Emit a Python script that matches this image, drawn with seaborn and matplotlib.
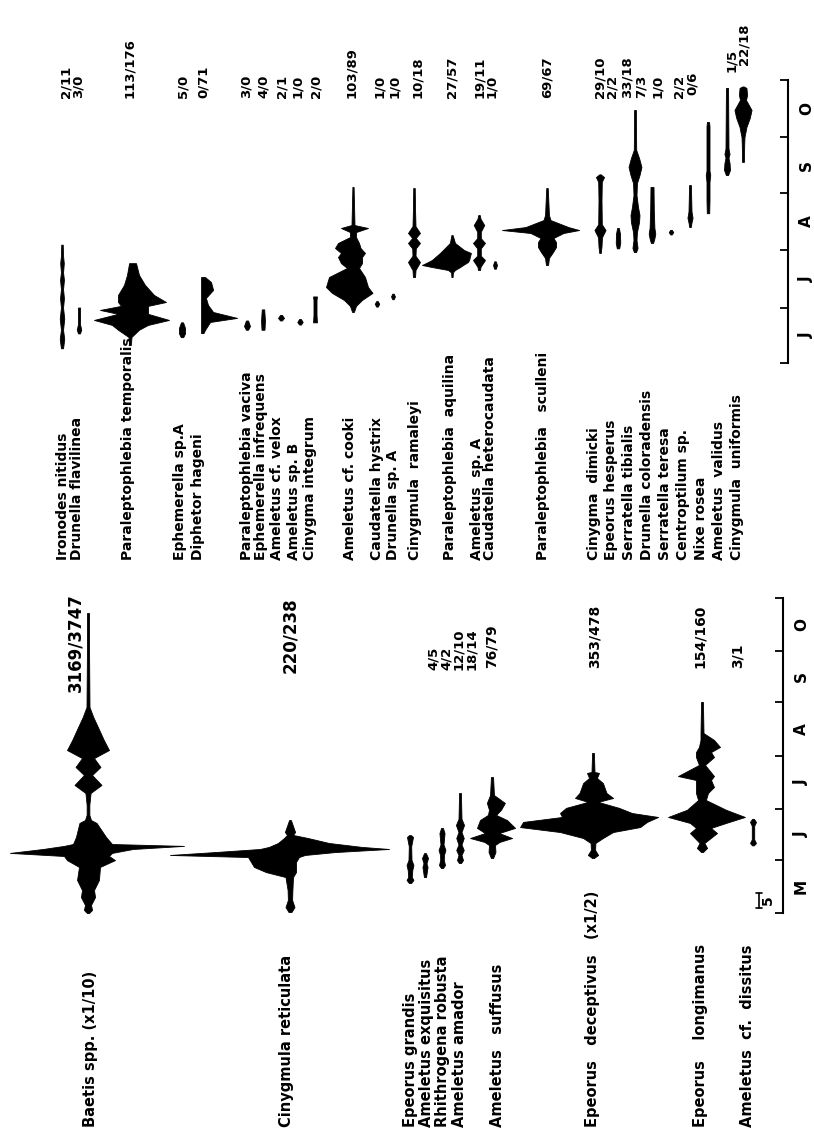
import matplotlib
matplotlib.use("Agg")
import matplotlib.pyplot as plt
import seaborn as sns

sns.set_theme(style="white")
plt.rcParams['font.family'] = ['DejaVu Sans']

PX_PER_IND = 3.0  # kite width: pixels per individual

# month boundaries (day of year) and month names
month_edges = [121, 152, 182, 213, 244, 274, 305]
month_names = ['M', 'J', 'J', 'A', 'S', 'O']

# ---------------- upper block (June - October) ----------------
top_names = ["Ironodes nitidus", "Drunella flavilinea", "Paraleptophlebia temporalis",
             "Ephemerella sp.A", "Diphetor hageni", "Paraleptophlebia vaciva",
             "Ephemerella infrequens", "Ameletus cf. velox", "Ameletus sp. B",
             "Cinygma integrum", "Ameletus cf. cooki", "Caudatella hystrix", "Drunella sp. A",
             "Cinygmula  ramaleyi", "Paraleptophlebia  aquilina", "Ameletus  sp. A",
             "Caudatella heterocaudata", "Paraleptophlebia   sculleni", "Cinygma  dimicki",
             "Epeorus hesperus", "Serratella tibialis", "Drunella coloradensis",
             "Serratella teresa", "Centroptilum sp.", "Nixe rosea", "Ameletus  validus",
             "Cinygmula  uniformis"]
top_counts = ["2/11", "3/0", "113/176", "5/0", "0/71", "3/0", "4/0", "2/1", "1/0", "2/0",
              "103/89", "1/0", "1/0", "10/18", "27/57", "19/11", "1/0", "69/67", "29/10",
              "2/2", "33/18", "7/3", "1/0", "2/2", "0/6", "1/5", "22/18"]

# (day, width) or (day, left, right) in individuals
top_kites = {
    "Ironodes nitidus": [(160, 0.7), (165, 1.5), (170, 0.7), (176, 1.5), (182, 0.7), (187, 1.3),
                         (192, 0.7), (197, 1.3), (201, 0.7), (206, 1.2), (210, 0.7), (216, 0.5)],
    "Drunella flavilinea": [(168, 0.6), (170, 1.5), (173, 0.7), (182, 0.7)],
    "Paraleptophlebia temporalis": [(206, 0.3, 2), (199.6, 1, 3), (194.2, 2, 5), (188.8, 4, 8),
                                    (185, 4, 12), (182.9, 3, 6), (180.7, 10, 6), (178.6, 4, 6),
                                    (175.3, 12, 13), (172.6, 6, 6), (170, 4, 3), (166.1, 0.5, 0.5),
                                    (161.8, 0.3, 0.3)],
    "Ephemerella sp.A": [(166, 0.8), (168, 2), (171, 2), (174, 0.7)],
    "Diphetor hageni": [(198.5, 0.3, 1), (195.8, 0.3, 3), (191.5, 0.3, 3.7), (187.2, 0.3, 1.3),
                        (183.4, 0.3, 2), (179.6, 0.3, 3.7), (176.4, 0.3, 11.7), (174.2, 0.3, 2.7),
                        (169.9, 0.3, 1), (168.2, 0.3, 0.5)],
    "Paraleptophlebia vaciva": [(170, 0.7), (172, 2), (175, 0.7)],
    "Ephemerella infrequens": [(170, 1), (175, 1.3), (181, 0.8)],
    "Ameletus cf. velox": [(175, 0.6), (176.4, 2), (178, 0.6)],
    "Ameletus sp. B": [(172.8, 0.6), (174.2, 1.8), (175.8, 0.6)],
    "Cinygma integrum": [(174, 1.3), (178, 1), (186, 1), (188, 1.3)],
    "Ameletus cf. cooki": [(247.2, 0.2, 0.2), (226.6, 0.5, 0.5), (225, 4, 5), (222.8, 1, 1),
                           (220.1, 1, 1), (216.9, 5, 2), (214.2, 6, 2.5), (211.5, 4, 4),
                           (209.3, 5, 3), (206, 4, 3), (203.4, 2, 2), (198.5, 8, 4), (193.1, 9, 5),
                           (189.9, 7, 6.5), (186.1, 3, 3), (182.9, 1, 1), (179.6, 0.3, 0.3)],
    "Caudatella hystrix": [(182.5, 0.5), (184, 1.5), (185.5, 0.5)],
    "Drunella sp. A": [(186.5, 0.5), (188, 1.3), (189.5, 0.5)],
    "Cinygmula  ramaleyi": [(198.5, 0.7), (202.3, 1), (206.6, 4), (210, 1), (214, 1.2), (216.9, 4),
                            (219.6, 1.2), (222.3, 4), (226, 1), (235, 0.7), (246.6, 0.5)],
    "Paraleptophlebia  aquilina": [(198.5, 0.2, 0.2), (201, 0.3, 0.3), (202.3, 1.3, 1),
                                   (203.9, 6.7, 2.7), (205, 10, 3.7), (206.6, 8, 5.3),
                                   (207.7, 6.7, 5.7), (211.5, 4, 6.3), (213.1, 3, 4),
                                   (216.9, 0.7, 1), (221.2, 0.2, 0.2)],
    "Ameletus  sp. A": [(202.3, 0.7), (204, 1), (207.7, 4), (210, 1.2), (214, 1.2), (216.9, 4),
                        (219.5, 1.2), (223, 1.2), (226.6, 3.5), (230, 1), (232, 0.5)],
    "Caudatella heterocaudata": [(203, 0.6), (205, 1.3), (207, 0.5)],
    "Paraleptophlebia   sculleni": [(205, 0.7), (208.8, 1.3), (212, 4), (214.7, 6), (217.4, 6),
                                    (219.6, 4.3), (222.3, 11), (223.9, 15, 10.7), (225.5, 14.3),
                                    (229.3, 2.3), (232, 1.3), (246.6, 0.5)],
    "Cinygma  dimicki": [(211.5, 0.5), (215, 1), (220, 1.3), (223.9, 3.7), (227, 1.2), (240, 1),
                         (250, 1.2), (252.5, 2.7), (254, 0.5)],
    "Epeorus hesperus": [(214, 0.8), (217, 1.5), (222, 1.3), (225, 0.6)],
    "Serratella tibialis": [(212, 0.7), (214.2, 1.7), (218.5, 1), (222.8, 1.3), (228.2, 2.7),
                            (232, 3), (236.4, 2), (242.8, 1), (249.3, 1.3), (253.6, 3), (258, 4.3),
                            (262.8, 2.7), (267.2, 0.8), (275, 0.7), (288.8, 0.6)],
    "Drunella coloradensis": [(216.9, 0.7), (219, 1.5), (222, 2.2), (225, 1.6), (235, 1.2),
                              (247.2, 1)],
    "Serratella teresa": [(221.5, 0.5), (222.8, 1.5), (224, 0.5)],
    "Centroptilum sp.": [(225.5, 0.5), (228, 1), (230.5, 1.7), (234, 1), (248.2, 0.6)],
    "Nixe rosea": [(233, 0.8), (240, 1), (250, 1), (253.6, 1.5), (256, 1), (270, 1), (280, 1),
                   (282.3, 0.7)],
    "Ameletus  validus": [(253.6, 0.7), (256.4, 2), (260.1, 1.7), (263, 1), (265, 1.7), (268, 1),
                          (290, 0.8), (300.7, 0.7)],
    "Cinygmula  uniformis": [(260.7, 0.6), (270, 0.8), (274.2, 1), (279.6, 2.3), (284.5, 4.5),
                             (288.8, 5.7), (294.2, 2), (296.9, 2.7), (300.7, 2.3), (301.5, 0.5)],
}

# ---------------- lower block (May - October) ----------------
bot_names = ["Baetis spp. (x1/10)", "Cinygmula reticulata", "Epeorus grandis",
             "Ameletus exquisitus", "Rhithrogena robusta", "Ameletus amador",
             "Ameletus   suffusus", "Epeorus   deceptivus   (x1/2)", "Epeorus    longimanus",
             "Ameletus  cf.  dissitus"]
bot_counts = ["3169/3747", "220/238", "4/5", "4/2", "12/10", "18/14", "76/79", "353/478",
              "154/160", "3/1"]

bot_kites = {
    "Baetis spp. (x1/10)": [(296.2, 0.7), (274.6, 0.7), (241.3, 1), (235.5, 3.5), (227.9, 7.5),
                            (222.1, 10.5), (216.2, 14), (211.5, 4), (206.3, 8.3), (201.6, 2.7),
                            (195.8, 9), (191.1, 1.7), (184.1, 0.9), (178.3, 0.9), (175.3, 2),
                            (173.6, 5.7), (165.4, 4, 6), (161.3, 5, 8), (160.2, 8, 32),
                            (158.4, 15, 15), (156.1, 26, 8), (154.3, 8, 7), (151.9, 7, 9),
                            (147.9, 3, 4), (140.3, 7.3), (134.4, 4), (130.3, 4.7), (125.7, 2),
                            (122.8, 2.7), (121, 0.7)],
    "Cinygmula reticulata": [(175.3, 0.3, 0.3), (168.3, 1.7, 1.7), (166.6, 1, 1), (164.8, 2, 6),
                             (161.9, 4, 13), (159.6, 7, 24), (158.4, 10, 33), (156.6, 25, 15),
                             (154.9, 40, 5), (153.7, 14, 3), (150.8, 13, 2), (147.9, 12, 2),
                             (144.9, 8, 2), (142, 1.5, 1), (134.4, 0.8, 0.8), (128.6, 0.7, 0.7),
                             (124.5, 1.5, 1.5), (121.6, 0.5, 0.5)],
    "Epeorus grandis": [(138.5, 0.7), (140.3, 2.3), (142, 1.2), (146, 1.5), (149, 2.3), (152, 1),
                        (160, 0.8), (165.4, 2), (166.5, 0.6)],
    "Ameletus exquisitus": [(142, 0.7), (147.9, 1.7), (150, 1), (153.1, 2), (156, 0.6)],
    "Rhithrogena robusta": [(147.3, 0.7), (149, 2), (152, 1.2), (155, 1.3), (157.8, 2.3),
                            (161, 1), (167.7, 1.7), (170.7, 0.6)],
    "Ameletus amador": [(150.2, 0.7), (151.9, 2), (154.9, 1), (157.8, 2.5), (161, 1), (164.8, 2.5),
                        (168.3, 1), (172.4, 2.7), (176, 1), (191.1, 0.6)],
    "Ameletus   suffusus": [(153.1, 0.7), (156.6, 2.3), (160.7, 2), (162.5, 5), (164.8, 7.3, 6.7),
                            (167.7, 4.7), (170.7, 5, 7.7), (175.3, 4, 5), (178.3, 2.7),
                            (181.3, 1, 3), (185.3, 1.7, 4.3), (189.9, 1.3), (200.4, 0.7)],
    "Epeorus   deceptivus   (x1/2)": [(214.5, 0.3, 0.3), (203.4, 0.5, 0.5), (202.8, 2, 2),
                                      (199.9, 1.3, 1.3), (196.9, 3.3, 3.3), (191.1, 4.5, 4.5),
                                      (188.2, 6, 6.7), (185.9, 1.7, 1.7), (182.4, 9, 8.7),
                                      (179.4, 11, 13), (177.1, 10.3, 21.7), (174.2, 23.3, 18),
                                      (171.2, 24.3, 15.7), (168.3, 11, 6.7), (164.8, 3.3, 3.3),
                                      (161.9, 0.8, 0.8), (157.8, 0.7, 0.7), (154.9, 1.7, 1.7),
                                      (153.1, 0.3, 0.3)],
    "Epeorus    longimanus": [(244.3, 0.3, 0.3), (226.1, 0.5, 0.5), (222.1, 0.5, 4), (218, 1, 6),
                              (215, 2, 3), (212.1, 2, 4), (207.5, 1, 1), (201, 8, 4),
                              (198.7, 2, 3), (194.6, 2, 4), (191.1, 2, 2), (187, 1.3, 1.3),
                              (181.3, 5, 8), (177.1, 11.3, 14.3), (173.6, 4, 8), (170.7, 2, 3),
                              (167.7, 4, 5), (161.9, 0.8, 0.8), (159, 1.7, 1.7),
                              (156.6, 0.3, 0.3)],
    "Ameletus  cf.  dissitus": [(160.5, 0.6), (161.9, 2), (164, 0.8), (172, 0.8), (174.2, 2),
                                (176, 0.6)],
}

# ---------------- layout (pixels in the 814 x 1132 picture) ----------------
W, H = 814, 1132
SPLIT = 575
top_map = (80, 1.85)     # pixel row of 1 Nov, pixels per day
bot_map = (598, 1.712)

top_kite_x = [62, 79, 130, 182, 202, 247, 263, 281, 300, 315, 353, 377, 393, 414, 452, 479,
              495, 547, 600, 618, 635, 652, 671, 690, 708, 727, 743]
top_label_x = [63, 77, 128, 180, 198, 247, 261, 277, 294, 310, 350, 377, 393, 415, 450, 477,
               490, 543, 594, 611, 629, 647, 665, 683, 701, 719, 737]
top_count_x = [66, 78, 130, 183, 203, 246, 263, 282, 298, 316, 352, 380, 395, 418, 452, 480,
               492, 547, 600, 612, 627, 641, 658, 679, 692, 732, 744]
top_count_y = [98] * 24 + [95, 72, 65]

bot_kite_x = [88, 290, 410, 425, 442, 460, 492, 593, 702, 753]
bot_label_x = [90, 287, 410, 427, 443, 460, 497, 593, 700, 748]
bot_count_x = [75, 290, 433, 446, 459, 472, 492, 595, 700, 738]
bot_count_y = [692, 673, 670, 670, 670, 670, 668, 668, 668, 668]
bot_count_size = [12, 12, 9.5, 9.5, 9.5, 9.5, 10, 10, 10, 10]


def px_to_day(p, mapping):
    ref, ppd = mapping
    return 305 - (p - ref) / ppd


def draw_kite(ax, x0, profile):
    pts = sorted(profile)
    days = [p[0] for p in pts]
    left = [p[1] if len(p) == 3 else p[1] / 2 for p in pts]
    right = [p[2] if len(p) == 3 else p[1] / 2 for p in pts]
    ax.fill_betweenx(days, [x0 - v * PX_PER_IND for v in left],
                     [x0 + v * PX_PER_IND for v in right],
                     facecolor='black', edgecolor='black', linewidth=0.6)


def setup_time_axis(ax, axis_x, edges, names):
    sns.despine(ax=ax, left=True, bottom=True, top=True, right=False)
    ax.spines['right'].set_position(('data', axis_x))
    ax.spines['right'].set_bounds(edges[0], edges[-1])
    ax.spines['right'].set_color('black')
    ax.spines['right'].set_linewidth(1.5)
    ax.set_xticks([])
    ax.yaxis.set_ticks_position('right')
    ax.set_yticks(edges)
    ax.set_yticklabels([])
    mids = [(a + b) / 2 for a, b in zip(edges[:-1], edges[1:])]
    ax.set_yticks(mids, minor=True)
    ax.set_yticklabels(names, minor=True, rotation=90, va='center', fontsize=11,
                       fontweight='bold', color='black')
    ax.tick_params(axis='y', which='major', direction='in', length=6, width=1.3,
                   color='black', right=True, left=False)
    ax.tick_params(axis='y', which='minor', length=0, pad=8, right=True, left=False)


def draw_block(ax, mapping, names, counts, kites, kite_x, label_x, count_x, count_y,
               label_y, label_size, count_size):
    for name, x in zip(names, kite_x):
        draw_kite(ax, x, kites[name])
    for name, x in zip(names, label_x):
        ax.text(x, px_to_day(label_y, mapping), name, rotation=90, rotation_mode='anchor',
                ha='left', va='center', fontsize=label_size, fontweight='bold', color='black')
    for c, x, y, s in zip(counts, count_x, count_y, count_size):
        ax.text(x, px_to_day(y, mapping), c, rotation=90, rotation_mode='anchor',
                ha='left', va='center', fontsize=s, fontweight='bold', color='black')


fig = plt.figure(figsize=(W / 100, H / 100), dpi=100)
fig.patch.set_facecolor('white')

ax_top = fig.add_axes([0, 1 - SPLIT / H, 1, SPLIT / H])
ax_top.set_xlim(0, W)
ax_top.set_ylim(px_to_day(SPLIT, top_map), px_to_day(0, top_map))
ax_top.set_facecolor('white')
setup_time_axis(ax_top, 788, month_edges[1:], month_names[1:])
draw_block(ax_top, top_map, top_names, top_counts, top_kites,
           top_kite_x, top_label_x, top_count_x, top_count_y, 560,
           10, [9.5] * len(top_counts))

ax_bot = fig.add_axes([0, 0, 1, (H - SPLIT) / H])
ax_bot.set_xlim(0, W)
ax_bot.set_ylim(px_to_day(H, bot_map), px_to_day(SPLIT, bot_map))
ax_bot.set_facecolor('white')
setup_time_axis(ax_bot, 783, month_edges, month_names)
draw_block(ax_bot, bot_map, bot_names, bot_counts, bot_kites,
           bot_kite_x, bot_label_x, bot_count_x, bot_count_y, 1127,
           10.5, bot_count_size)

# scale bar: 5 individuals
y0, y1 = px_to_day(893, bot_map), px_to_day(908, bot_map)
ax_bot.plot([759, 759], [y0, y1], color='black', lw=1.2)
ax_bot.plot([756, 762], [y0, y0], color='black', lw=1.2)
ax_bot.plot([756, 762], [y1, y1], color='black', lw=1.2)
ax_bot.text(768, px_to_day(900, bot_map), '5', rotation=90, rotation_mode='anchor',
            ha='center', va='center', fontsize=10, fontweight='bold', color='black')

fig.savefig('out.png', dpi=100)
